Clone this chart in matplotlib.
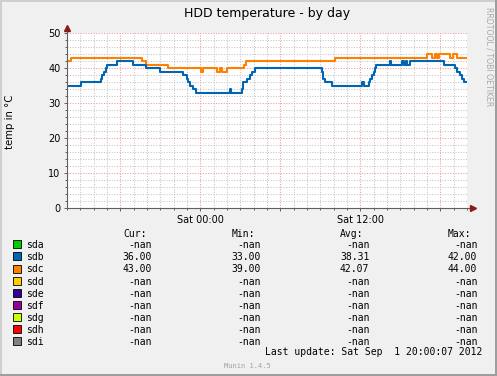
#!/usr/bin/env python3
"""Munin style HDD temperature (by day) graph."""

import matplotlib

matplotlib.use("Agg")
import matplotlib.pyplot as plt
from matplotlib.patches import Rectangle
from matplotlib.ticker import MultipleLocator, FixedLocator

W, H = 497, 376

# hours since Fri 14:00, temperature in degrees C (step changes)
sdb_hours = [0.0, 1.03, 2.55, 2.66, 2.78, 2.89, 2.98, 3.73, 4.93, 5.93, 6.98, 8.72, 9.0, 9.11,
             9.23, 9.45, 9.68, 12.19, 12.3, 13.1, 13.2, 13.48, 13.73, 13.85, 14.1, 19.1, 19.2,
             19.35, 19.88, 22.13, 22.28, 22.65, 22.76, 22.88, 22.99, 23.1, 23.18, 24.19, 24.3,
             25.13, 25.28, 25.39, 25.5, 25.69, 28.28, 29.1, 29.25, 29.44, 29.59, 29.74, 29.98]
sdb_temps = [35, 36, 37, 38, 39, 40, 41, 42, 41, 40, 39, 38, 37, 36,
             35, 34, 33, 34, 33, 34, 36, 37, 38, 39, 40, 39, 37,
             36, 35, 36, 35, 36, 37, 38, 39, 40, 41, 42, 41,
             42, 41, 42, 41, 42, 41, 40, 39, 38, 37, 36, 36]

sdc_hours = [0.0, 0.28, 5.6, 5.93, 7.6, 10.05, 10.2, 11.23, 11.48, 11.6, 11.98, 13.28, 13.43,
             20.1, 26.98, 27.35, 27.6, 27.77, 27.92, 28.72, 28.93, 29.23, 29.98]
sdc_temps = [42, 43, 42, 41, 40, 39, 40, 39, 40, 39, 40, 41, 42,
             43, 44, 43, 44, 43, 44, 43, 44, 43, 43]

x_tick_hours = [4, 10, 16, 22, 28]
x_tick_labels = ["", "Sat 00:00", "", "Sat 12:00", ""]
y_ticks = [0, 10, 20, 30, 40, 50]

disks = ["sda", "sdb", "sdc", "sdd", "sde", "sdf", "sdg", "sdh", "sdi"]
disk_colors = ["#00CC00", "#0066B3", "#FF8000", "#FFCC00", "#330099",
               "#990099", "#CCFF00", "#FF0000", "#808080"]
cur_vals = ["-nan", "36.00", "43.00", "-nan", "-nan", "-nan", "-nan", "-nan", "-nan"]
min_vals = ["-nan", "33.00", "39.00", "-nan", "-nan", "-nan", "-nan", "-nan", "-nan"]
avg_vals = ["-nan", "38.31", "42.07", "-nan", "-nan", "-nan", "-nan", "-nan", "-nan"]
max_vals = ["-nan", "42.00", "44.00", "-nan", "-nan", "-nan", "-nan", "-nan", "-nan"]


def fx(px):
    return px / W


def fy(py):
    return 1.0 - py / H


def main():
    fig = plt.figure(figsize=(W / 100, H / 100), dpi=100, facecolor="#F0F0F0")

    # 3D-ish frame
    fig.add_artist(Rectangle((0, fy(2)), 1, 2 / H, transform=fig.transFigure,
                             facecolor="#CFCFCF", edgecolor="none"))
    fig.add_artist(Rectangle((0, 0), 2 / W, 1, transform=fig.transFigure,
                             facecolor="#CFCFCF", edgecolor="none"))
    fig.add_artist(Rectangle((fx(W - 2), 0), 2 / W, 1, transform=fig.transFigure,
                             facecolor="#9E9E9E", edgecolor="none"))
    fig.add_artist(Rectangle((0, 0), 1, 2 / H, transform=fig.transFigure,
                             facecolor="#9E9E9E", edgecolor="none"))

    ax = fig.add_axes([fx(67), fy(208), 400 / W, 175 / H])
    ax.set_facecolor("white")
    ax.set_xlim(0, 30)
    ax.set_ylim(0, 50)
    for sp in ax.spines.values():
        sp.set_visible(False)

    ax.xaxis.set_major_locator(FixedLocator(x_tick_hours))
    ax.set_xticklabels(x_tick_labels)
    ax.xaxis.set_minor_locator(MultipleLocator(1))
    ax.set_yticks(y_ticks)
    ax.yaxis.set_minor_locator(MultipleLocator(2))
    ax.tick_params(which="major", length=2.2, width=0.7, color="#606060",
                   labelsize=7, pad=2.5)
    ax.tick_params(which="minor", length=1.5, width=0.7, color="#606060")
    ax.tick_params(axis="x", which="both", direction="out")

    ax.grid(which="minor", color="#C4C4C4", lw=0.75, ls=(0, (1, 1.5)))
    ax.grid(which="major", color="#EE9898", lw=0.75, ls=(0, (1, 1.5)))
    ax.set_axisbelow(True)

    ax.set_ylabel("temp in °C", fontsize=7.3)
    ax.yaxis.set_label_coords(-0.13, 0.49)

    ax.step(sdc_hours, sdc_temps, where="post", color=disk_colors[2], lw=1.5, zorder=3)
    ax.step(sdb_hours, sdb_temps, where="post", color=disk_colors[1], lw=1.5, zorder=3)

    # axis lines with little arrows, rrdtool style
    ax.plot([0, 30.45], [0, 0], color="#606060", lw=0.8, clip_on=False, zorder=4)
    ax.plot([0, 0], [0, 51.3], color="#606060", lw=0.8, clip_on=False, zorder=4)
    ax.plot([30.45], [0], marker=">", ms=4, color="#8B1A1A", clip_on=False, zorder=5)
    ax.plot([0], [51.3], marker="^", ms=4, color="#8B1A1A", clip_on=False, zorder=5)

    fig.text(fx(267), fy(14), "HDD temperature - by day", ha="center", va="center",
             fontsize=9)
    fig.text(fx(488.5), fy(56.5), "RRDTOOL / TOBI OETIKER", ha="center", va="center",
             rotation=270, fontsize=5.6, color="#A8A8A8")

    mono = dict(family="DejaVu Sans Mono", fontsize=7, va="baseline")
    headers = ["Cur:", "Min:", "Avg:", "Max:"]
    header_x = [123, 231.7, 340, 447.3]
    col_right = [152, 260.5, 369.3, 477.3]
    for hx, label in zip(header_x, headers):
        fig.text(fx(hx), fy(236.7), label, ha="left", **mono)

    columns = [cur_vals, min_vals, avg_vals, max_vals]
    for i, name in enumerate(disks):
        row = 244.3 + 12.1 * i
        fig.add_artist(Rectangle((fx(13), fy(row + 4)), 8 / W, 8 / H,
                                 transform=fig.transFigure, facecolor=disk_colors[i],
                                 edgecolor="black", lw=0.6))
        fig.text(fx(26.5), fy(row + 4), name, ha="left", **mono)
        for cx, col in zip(col_right, columns):
            fig.text(fx(cx), fy(row + 4), col[i], ha="right", **mono)

    fig.text(fx(482.5), fy(355), "Last update: Sat Sep  1 20:00:07 2012", ha="right", **mono)
    fig.text(fx(224), fy(368), "Munin 1.4.5", ha="left", family="DejaVu Sans Mono",
             fontsize=5, va="baseline", color="#A0A0A0")

    fig.savefig("out.png", dpi=100, facecolor=fig.get_facecolor())


if __name__ == "__main__":
    main()
